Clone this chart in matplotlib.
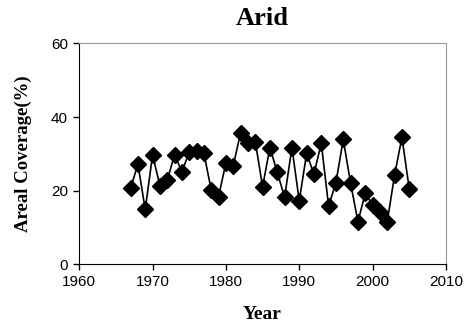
import matplotlib
matplotlib.use("Agg")
import matplotlib.pyplot as plt

years = list(range(1967, 2006))
coverage = [20.6, 27.2, 14.9, 29.7, 21.4, 22.9, 29.7, 25.2, 30.4, 30.8,
            30.1, 20.2, 18.4, 27.6, 26.8, 35.7, 32.9, 33.3, 21.1, 31.7,
            25.0, 18.2, 31.7, 17.2, 30.1, 24.5, 32.9, 15.8, 22.2, 33.9,
            22.0, 11.6, 19.3, 16.1, 14.3, 11.6, 24.3, 34.5, 20.4]
xticks = [1960, 1970, 1980, 1990, 2000, 2010]
yticks = [0, 20, 40, 60]

serif = ["Liberation Serif", "DejaVu Serif"]
sans = ["Liberation Sans", "DejaVu Sans"]

fig = plt.figure(figsize=(4.66, 3.31), dpi=100)
ax = fig.add_axes([0.170, 0.2015, 0.787, 0.6675])

ax.plot(years, coverage, color="black", lw=1.2, marker="D", ms=7.8,
        markerfacecolor="black", markeredgecolor="black")

ax.set_xlim(1960, 2010)
ax.set_ylim(0, 60)
ax.set_xticks(xticks)
ax.set_yticks(yticks)
ax.tick_params(direction="out", length=4, width=1, labelsize=11, pad=4)
for lab in ax.get_xticklabels() + ax.get_yticklabels():
    lab.set_family(sans)

for s in ["top", "right"]:
    ax.spines[s].set_color("#999999")
for s in ["left", "bottom"]:
    ax.spines[s].set_color("black")

ax.set_title("Arid", family=serif, fontweight="bold", fontsize=19, pad=13)
ax.set_xlabel("Year", family=serif, fontweight="bold", fontsize=14, labelpad=12)
ax.set_ylabel("Areal Coverage(%)", family=serif, fontweight="bold", fontsize=13.5, labelpad=14)

plt.savefig("out.png", dpi=100)
